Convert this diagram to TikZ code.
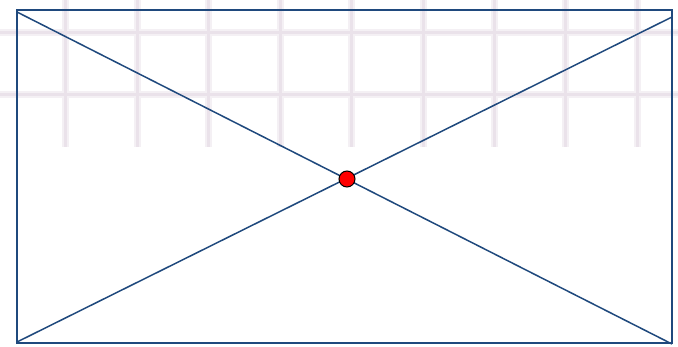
\documentclass[tikz,border=0pt]{standalone}
\definecolor{edgeblue}{RGB}{31,73,125}
\definecolor{gridsoft}{RGB}{244,240,244}
\definecolor{gridpink}{RGB}{234,226,234}
\tikzset{
  frame/.style={draw=edgeblue, line width=1.7pt},
  diag/.style={draw=edgeblue, line width=1.5pt},
  gridhalo/.style={draw=gridsoft, line width=7pt},
  gridline/.style={draw=gridpink, line width=3pt},
  centerdot/.style={circle, fill=red, draw=black, line width=1pt, minimum size=16pt, inner sep=0pt}
}
\begin{document}
\begin{tikzpicture}[x=1pt,y=-1pt]
\useasboundingbox (0,0) rectangle (678,346);
\fill[white] (0,0) rectangle (678,346);
\begin{scope}
\clip (0,0) rectangle (678,147);
\foreach \gx in {65,137,208,280,351,423,494,565,637}
  \draw[gridhalo] (\gx,0) -- (\gx,147);
\foreach \gy in {32,94}
  \draw[gridhalo] (0,\gy) -- (678,\gy);
\foreach \gx in {65,137,208,280,351,423,494,565,637}
  \draw[gridline] (\gx,0) -- (\gx,147);
\foreach \gy in {32,94}
  \draw[gridline] (0,\gy) -- (678,\gy);
\end{scope}
\coordinate (tl) at (17,10);
\coordinate (tr) at (672,10);
\coordinate (br) at (672,343);
\coordinate (bl) at (17,343);
\coordinate (dtl) at (17,12);
\coordinate (dtr) at (672,17);
\coordinate (dbl) at (17,342);
\coordinate (dbr) at (672,344);
\draw[frame] (tl) -- (tr) -- (br) -- (bl) -- cycle;
\draw[diag] (dtl) -- (dbr);
\draw[diag] (dbl) -- (dtr);
\node[centerdot] (c) at (347,179) {};
\end{tikzpicture}
\end{document}
